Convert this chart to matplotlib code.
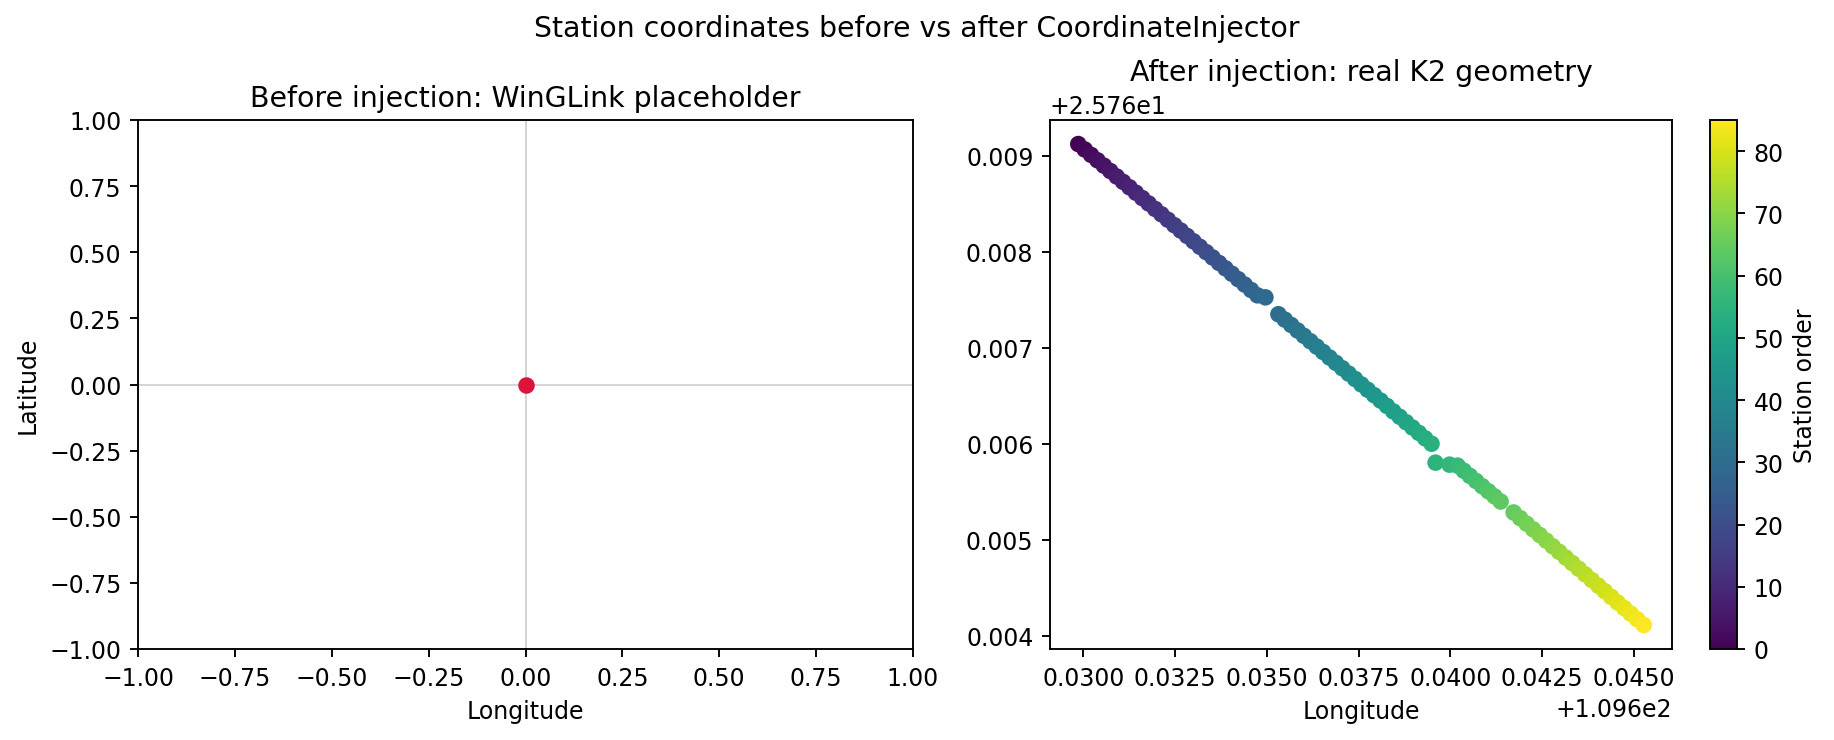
import matplotlib
matplotlib.use("Agg")
import matplotlib.pyplot as plt
from matplotlib.ticker import MultipleLocator

# Placeholder coordinates (before injection)
before_lon = [0.0]
before_lat = [0.0]

# Real station coordinates (after injection), offsets from 109.6 / 25.76
lon_offset = 109.6
lat_offset = 25.76
lon_rel = [
    0.029864, 0.030038, 0.030213, 0.030387, 0.030561, 0.030736, 0.030910, 0.031084,
    0.031258, 0.031433, 0.031607, 0.031781, 0.031956, 0.032130, 0.032304, 0.032479,
    0.032653, 0.032827, 0.033001, 0.033176, 0.033350, 0.033524, 0.033699, 0.033873,
    0.034047, 0.034222, 0.034396, 0.034570, 0.034744, 0.034962,
    0.035316, 0.035490, 0.035664, 0.035837, 0.036011, 0.036185, 0.036359, 0.036533,
    0.036706, 0.036880, 0.037054, 0.037228, 0.037402, 0.037575, 0.037749, 0.037923,
    0.038097, 0.038271, 0.038444, 0.038618, 0.038792, 0.038966, 0.039140, 0.039313,
    0.039487,
    0.039596,
    0.039978, 0.040196, 0.040364, 0.040531, 0.040699, 0.040866, 0.041034, 0.041202,
    0.041369,
    0.041723, 0.041900, 0.042077, 0.042255, 0.042432, 0.042609, 0.042786, 0.042963,
    0.043141, 0.043318, 0.043495, 0.043672, 0.043849, 0.044027, 0.044204, 0.044381,
    0.044558, 0.044735, 0.044913, 0.045090, 0.045267,
]
lat_rel = [
    0.009124, 0.009068, 0.009011, 0.008955, 0.008899, 0.008843, 0.008786, 0.008730,
    0.008674, 0.008617, 0.008561, 0.008505, 0.008448, 0.008392, 0.008336, 0.008279,
    0.008223, 0.008167, 0.008111, 0.008054, 0.007998, 0.007942, 0.007885, 0.007829,
    0.007773, 0.007716, 0.007660, 0.007604, 0.007548, 0.007527,
    0.007351, 0.007295, 0.007239, 0.007182, 0.007126, 0.007070, 0.007014, 0.006958,
    0.006901, 0.006845, 0.006789, 0.006733, 0.006677, 0.006620, 0.006564, 0.006508,
    0.006452, 0.006396, 0.006339, 0.006283, 0.006227, 0.006171, 0.006115, 0.006058,
    0.006002,
    0.005805,
    0.005784, 0.005774, 0.005721, 0.005667, 0.005614, 0.005560, 0.005507, 0.005454,
    0.005400,
    0.005286, 0.005227, 0.005169, 0.005110, 0.005052, 0.004993, 0.004934, 0.004876,
    0.004817, 0.004759, 0.004700, 0.004641, 0.004583, 0.004524, 0.004466, 0.004407,
    0.004348, 0.004290, 0.004231, 0.004173, 0.004114,
]
station_order = list(range(len(lon_rel)))

lon_after = [lon_offset + v for v in lon_rel]
lat_after = [lat_offset + v for v in lat_rel]

W, H = 1834, 741
DPI = 170
fig = plt.figure(figsize=(W / DPI, H / DPI), dpi=DPI)

ax1 = fig.add_axes([138 / W, 1 - 650 / H, (913 - 138) / W, (650 - 121) / H])
ax2 = fig.add_axes([1050 / W, 1 - 650 / H, (1672 - 1050) / W, (650 - 121) / H])
cax = fig.add_axes([1710 / W, 1 - 650 / H, 27 / W, (650 - 121) / H])

ax1.axhline(0, color="lightgray", lw=0.8, zorder=0)
ax1.axvline(0, color="lightgray", lw=0.8, zorder=0)
ax1.scatter(before_lon, before_lat, color="crimson", zorder=3)
ax1.set_xlim(-1, 1)
ax1.set_ylim(-1, 1)
ax1.set_xlabel("Longitude")
ax1.set_ylabel("Latitude")
ax1.set_title("Before injection: WinGLink placeholder")

sc = ax2.scatter(lon_after, lat_after, c=station_order, cmap="viridis")
ax2.set_xlabel("Longitude")
ax2.set_title("After injection: real K2 geometry")
ax2.xaxis.set_major_locator(MultipleLocator(0.0025))
ax2.yaxis.set_major_locator(MultipleLocator(0.001))
cb = fig.colorbar(sc, cax=cax)
cb.set_label("Station order")

fig.suptitle("Station coordinates before vs after CoordinateInjector")

fig.savefig("out.png", dpi=DPI)
